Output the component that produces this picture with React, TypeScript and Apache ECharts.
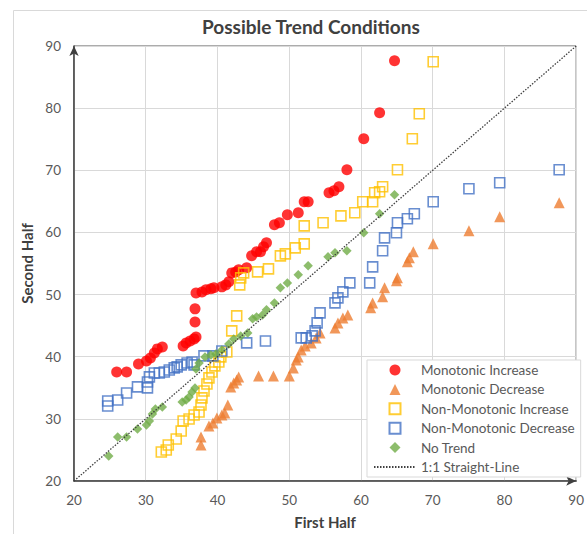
import React, { useEffect, useRef } from "react";
import * as echarts from "echarts";

const titleText = "Possible Trend Conditions";
const xName = "First Half";
const yName = "Second Half";
const axisMin = 20;
const axisMax = 90;
const axisStep = 10;

const monotonicIncrease: number[][] = [
  [25.95, 37.55], [27.33, 37.55], [28.99, 38.84], [30.1, 39.32], [30.65, 39.81],
  [31.2, 40.61], [31.62, 41.26], [32.31, 41.58], [35.21, 41.74], [35.63, 42.22],
  [36.18, 42.54], [36.74, 42.87], [37.01, 43.19], [36.87, 45.6], [36.87, 47.7],
  [37.01, 50.27], [37.84, 50.43], [38.4, 50.76], [39.09, 50.92], [39.5, 51.08],
  [40.61, 51.24], [41.16, 51.56], [41.58, 52.05], [41.99, 53.49], [42.54, 53.65],
  [42.96, 53.98], [44.07, 54.3], [44.76, 56.23], [45.45, 56.88], [46.0, 56.88],
  [46.42, 57.68], [46.83, 58.33], [47.94, 61.22], [48.63, 61.55], [49.74, 62.83],
  [51.26, 63.16], [52.09, 64.93], [52.64, 64.93], [55.55, 66.38], [56.24, 66.7],
  [56.93, 67.34], [58.04, 70.08], [60.39, 75.07], [62.6, 79.26], [64.68, 87.63],
];

const monotonicDecrease: number[][] = [
  [37.7, 25.8], [37.7, 27.09], [38.81, 28.86], [39.36, 29.34], [39.92, 30.14],
  [40.61, 30.63], [41.02, 30.95], [41.44, 32.24], [41.85, 35.14], [42.27, 35.78],
  [42.68, 36.26], [42.96, 36.75], [45.73, 36.91], [47.8, 36.91], [50.01, 36.91],
  [50.57, 38.2], [50.98, 39.48], [51.26, 39.97], [51.67, 41.1], [52.23, 41.74],
  [53.06, 42.22], [53.75, 43.03], [54.3, 43.83], [56.38, 44.64], [56.79, 45.44],
  [57.48, 46.25], [58.17, 46.73], [61.36, 47.86], [61.63, 48.66], [63.02, 49.63],
  [63.29, 51.08], [64.95, 52.21], [65.09, 52.69], [66.47, 55.27], [66.75, 55.91],
  [67.3, 56.88], [70.07, 58.16], [75.05, 60.26], [79.34, 62.51], [87.63, 64.77],
];

const nonMonotonicIncrease: number[][] = [
  [32.17, 24.67], [32.86, 24.99], [33.14, 25.8], [34.25, 26.76], [34.94, 28.05],
  [35.21, 29.66], [36.04, 29.98], [36.74, 30.63], [37.43, 31.11], [37.7, 32.24],
  [37.84, 33.37], [38.12, 34.49], [38.53, 35.62], [38.81, 36.59], [39.23, 37.55],
  [39.64, 38.52], [40.19, 39.16], [40.47, 39.97], [41.3, 40.77], [41.99, 44.15],
  [42.68, 46.57], [43.1, 51.56], [43.24, 52.69], [43.65, 53.49], [45.59, 53.65],
  [47.11, 54.14], [48.77, 56.23], [49.46, 56.55], [50.84, 57.52], [52.09, 58.16],
  [52.09, 61.06], [54.72, 61.55], [57.21, 62.67], [59.14, 63.16], [60.25, 64.93],
  [61.63, 64.93], [61.91, 66.38], [62.6, 66.54], [63.02, 67.34], [65.09, 70.08],
  [67.16, 75.07], [68.13, 79.1], [70.07, 87.47],
];

const nonMonotonicDecrease: number[][] = [
  [24.7, 32.08], [24.7, 32.88], [26.09, 33.04], [27.33, 34.17], [28.85, 35.14],
  [30.24, 34.98], [30.24, 35.94], [30.51, 36.75], [31.2, 37.39], [31.89, 37.39],
  [32.59, 37.55], [33.28, 37.87], [33.97, 38.2], [34.38, 38.36], [34.94, 38.68],
  [35.77, 39.0], [36.46, 39.16], [36.74, 38.68], [38.12, 40.13], [39.36, 40.13],
  [40.61, 40.93], [44.07, 42.22], [46.69, 42.54], [51.67, 43.03], [52.37, 43.03],
  [53.2, 43.35], [53.61, 44.15], [53.89, 45.44], [54.3, 47.05], [56.38, 48.66],
  [56.79, 49.47], [57.48, 50.43], [58.45, 51.88], [61.22, 51.88], [61.63, 54.46],
  [63.02, 57.04], [63.29, 59.13], [64.95, 59.94], [65.09, 61.55], [66.47, 62.19],
  [67.44, 63.0], [70.07, 64.93], [75.05, 67.02], [79.34, 67.99], [87.63, 70.08],
];

const noTrend: number[][] = [
  [24.84, 24.03], [26.09, 27.09], [27.33, 27.09], [28.85, 28.37], [30.1, 29.02],
  [30.51, 29.66], [30.93, 30.79], [31.34, 31.59], [32.31, 31.92], [35.08, 32.72],
  [35.63, 33.04], [36.04, 33.53], [36.46, 34.33], [36.87, 34.98], [37.01, 38.04],
  [37.43, 39.0], [38.26, 39.97], [39.09, 40.29], [39.78, 40.45], [40.61, 41.1],
  [41.58, 42.06], [42.27, 42.87], [43.24, 43.35], [44.21, 43.83], [44.9, 46.09],
  [45.45, 46.41], [46.28, 46.73], [46.83, 47.54], [47.94, 48.66], [48.77, 51.08],
  [49.74, 51.88], [51.26, 53.17], [52.64, 54.62], [55.41, 56.07], [56.38, 56.71],
  [58.04, 57.04], [60.39, 59.94], [62.6, 63.0], [64.68, 66.05],
];

const straightLine: number[][] = [
  [20, 20], [90, 90],
];

const seriesNames = [
  "Monotonic Increase",
  "Monotonic Decrease",
  "Non-Monotonic Increase",
  "Non-Monotonic Decrease",
  "No Trend",
  "1:1 Straight-Line",
];

const FONT = "Lato, 'Liberation Sans', sans-serif";
const TXT = "#595959";

const ICON_TRI = "path://M0,10L5,0L10,10Z";
const ICON_RECT = "path://M0,0L10,0L10,10L0,10Z";
const ICON_DIAMOND = "path://M5,0L10,5L5,10L0,5Z";

export default function App() {
  const ref = useRef<HTMLDivElement>(null);
  useEffect(() => {
    if (!ref.current) return;
    const chart = echarts.init(ref.current, undefined, { renderer: "svg" });
    const axisCommon = {
      type: "value" as const,
      min: axisMin,
      max: axisMax,
      interval: axisStep,
      nameLocation: "middle" as const,
      nameTextStyle: { fontFamily: FONT, fontWeight: "bold" as const, fontSize: 15, color: "#404040" },
      axisLine: {
        show: true,
        symbol: ["none", "arrow"],
        symbolSize: [7, 10],
        lineStyle: { color: "#404040", width: 1.5 },
      },
      axisTick: { show: false },
      axisLabel: { fontFamily: FONT, fontSize: 13.5, color: TXT },
      splitLine: { show: true, lineStyle: { color: "#d9d9d9", width: 1 } },
    };
    chart.setOption({
      animation: false,
      backgroundColor: "#ffffff",
      textStyle: { fontFamily: FONT },
      title: {
        text: titleText,
        left: 197,
        top: 12,
        textStyle: { fontFamily: FONT, fontSize: 19, fontWeight: "bold", color: "#404040" },
      },
      graphic: [
        {
          type: "rect",
          left: 11,
          top: 8,
          shape: { x: 0, y: 0, width: 620, height: 620 },
          style: { fill: "none", stroke: "#d9d9d9", lineWidth: 1 },
          z: -10,
          silent: true,
        },
      ],
      grid: {
        left: 74,
        top: 46,
        right: 5,
        bottom: 53,
        show: true,
        borderColor: "#595959",
        borderWidth: 1,
        backgroundColor: "transparent",
      },
      xAxis: {
        ...axisCommon,
        name: xName,
        nameGap: 33,
        axisLabel: { ...axisCommon.axisLabel, margin: 12 },
      },
      yAxis: {
        ...axisCommon,
        name: yName,
        nameGap: 40,
        axisLabel: { ...axisCommon.axisLabel, margin: 13 },
      },
      legend: {
        orient: "vertical",
        left: 367,
        top: 360,
        padding: [3, 6, 3, 6],
        itemWidth: 42,
        itemHeight: 11,
        itemGap: 5.4,
        symbolKeepAspect: true,
        backgroundColor: "#ffffff",
        borderColor: "#d9d9d9",
        borderWidth: 1,
        textStyle: { fontFamily: FONT, fontSize: 13.5, color: TXT, lineHeight: 14 },
        data: [
          { name: seriesNames[0] },
          { name: seriesNames[1], icon: ICON_TRI },
          { name: seriesNames[2], icon: ICON_RECT },
          { name: seriesNames[3], icon: ICON_RECT },
          { name: seriesNames[4], icon: ICON_DIAMOND },
          {
            name: seriesNames[5],
            itemStyle: { color: "transparent", borderColor: "transparent", borderWidth: 0 },
          },
        ],
      },
      series: [
        {
          name: seriesNames[0],
          type: "scatter",
          data: monotonicIncrease,
          symbol: "circle",
          symbolSize: 11,
          itemStyle: { color: "#ff0000" },
        },
        {
          name: seriesNames[1],
          type: "scatter",
          data: monotonicDecrease,
          symbol: "triangle",
          symbolSize: 11,
          itemStyle: { color: "#ed7d31" },
        },
        {
          name: seriesNames[2],
          type: "scatter",
          data: nonMonotonicIncrease,
          symbol: "rect",
          symbolSize: 10,
          itemStyle: { color: "transparent", borderColor: "#ffc000", borderWidth: 1.6 },
        },
        {
          name: seriesNames[3],
          type: "scatter",
          data: nonMonotonicDecrease,
          symbol: "rect",
          symbolSize: 10,
          itemStyle: { color: "transparent", borderColor: "#4472c4", borderWidth: 1.6 },
        },
        {
          name: seriesNames[4],
          type: "scatter",
          data: noTrend,
          symbol: "diamond",
          symbolSize: 9.5,
          itemStyle: { color: "#70ad47" },
        },
        {
          name: seriesNames[5],
          type: "line",
          data: straightLine,
          symbol: "none",
          lineStyle: { color: "#404040", width: 1.3, type: [1.5, 1.5] },
          itemStyle: { color: "#404040" },
          z: 5,
        },
      ],
    });
    return () => chart.dispose();
  }, []);
  return (
    <div
      ref={ref}
      style={{ position: "absolute", left: 0, top: 0, width: 587, height: 534 }}
    />
  );
}
